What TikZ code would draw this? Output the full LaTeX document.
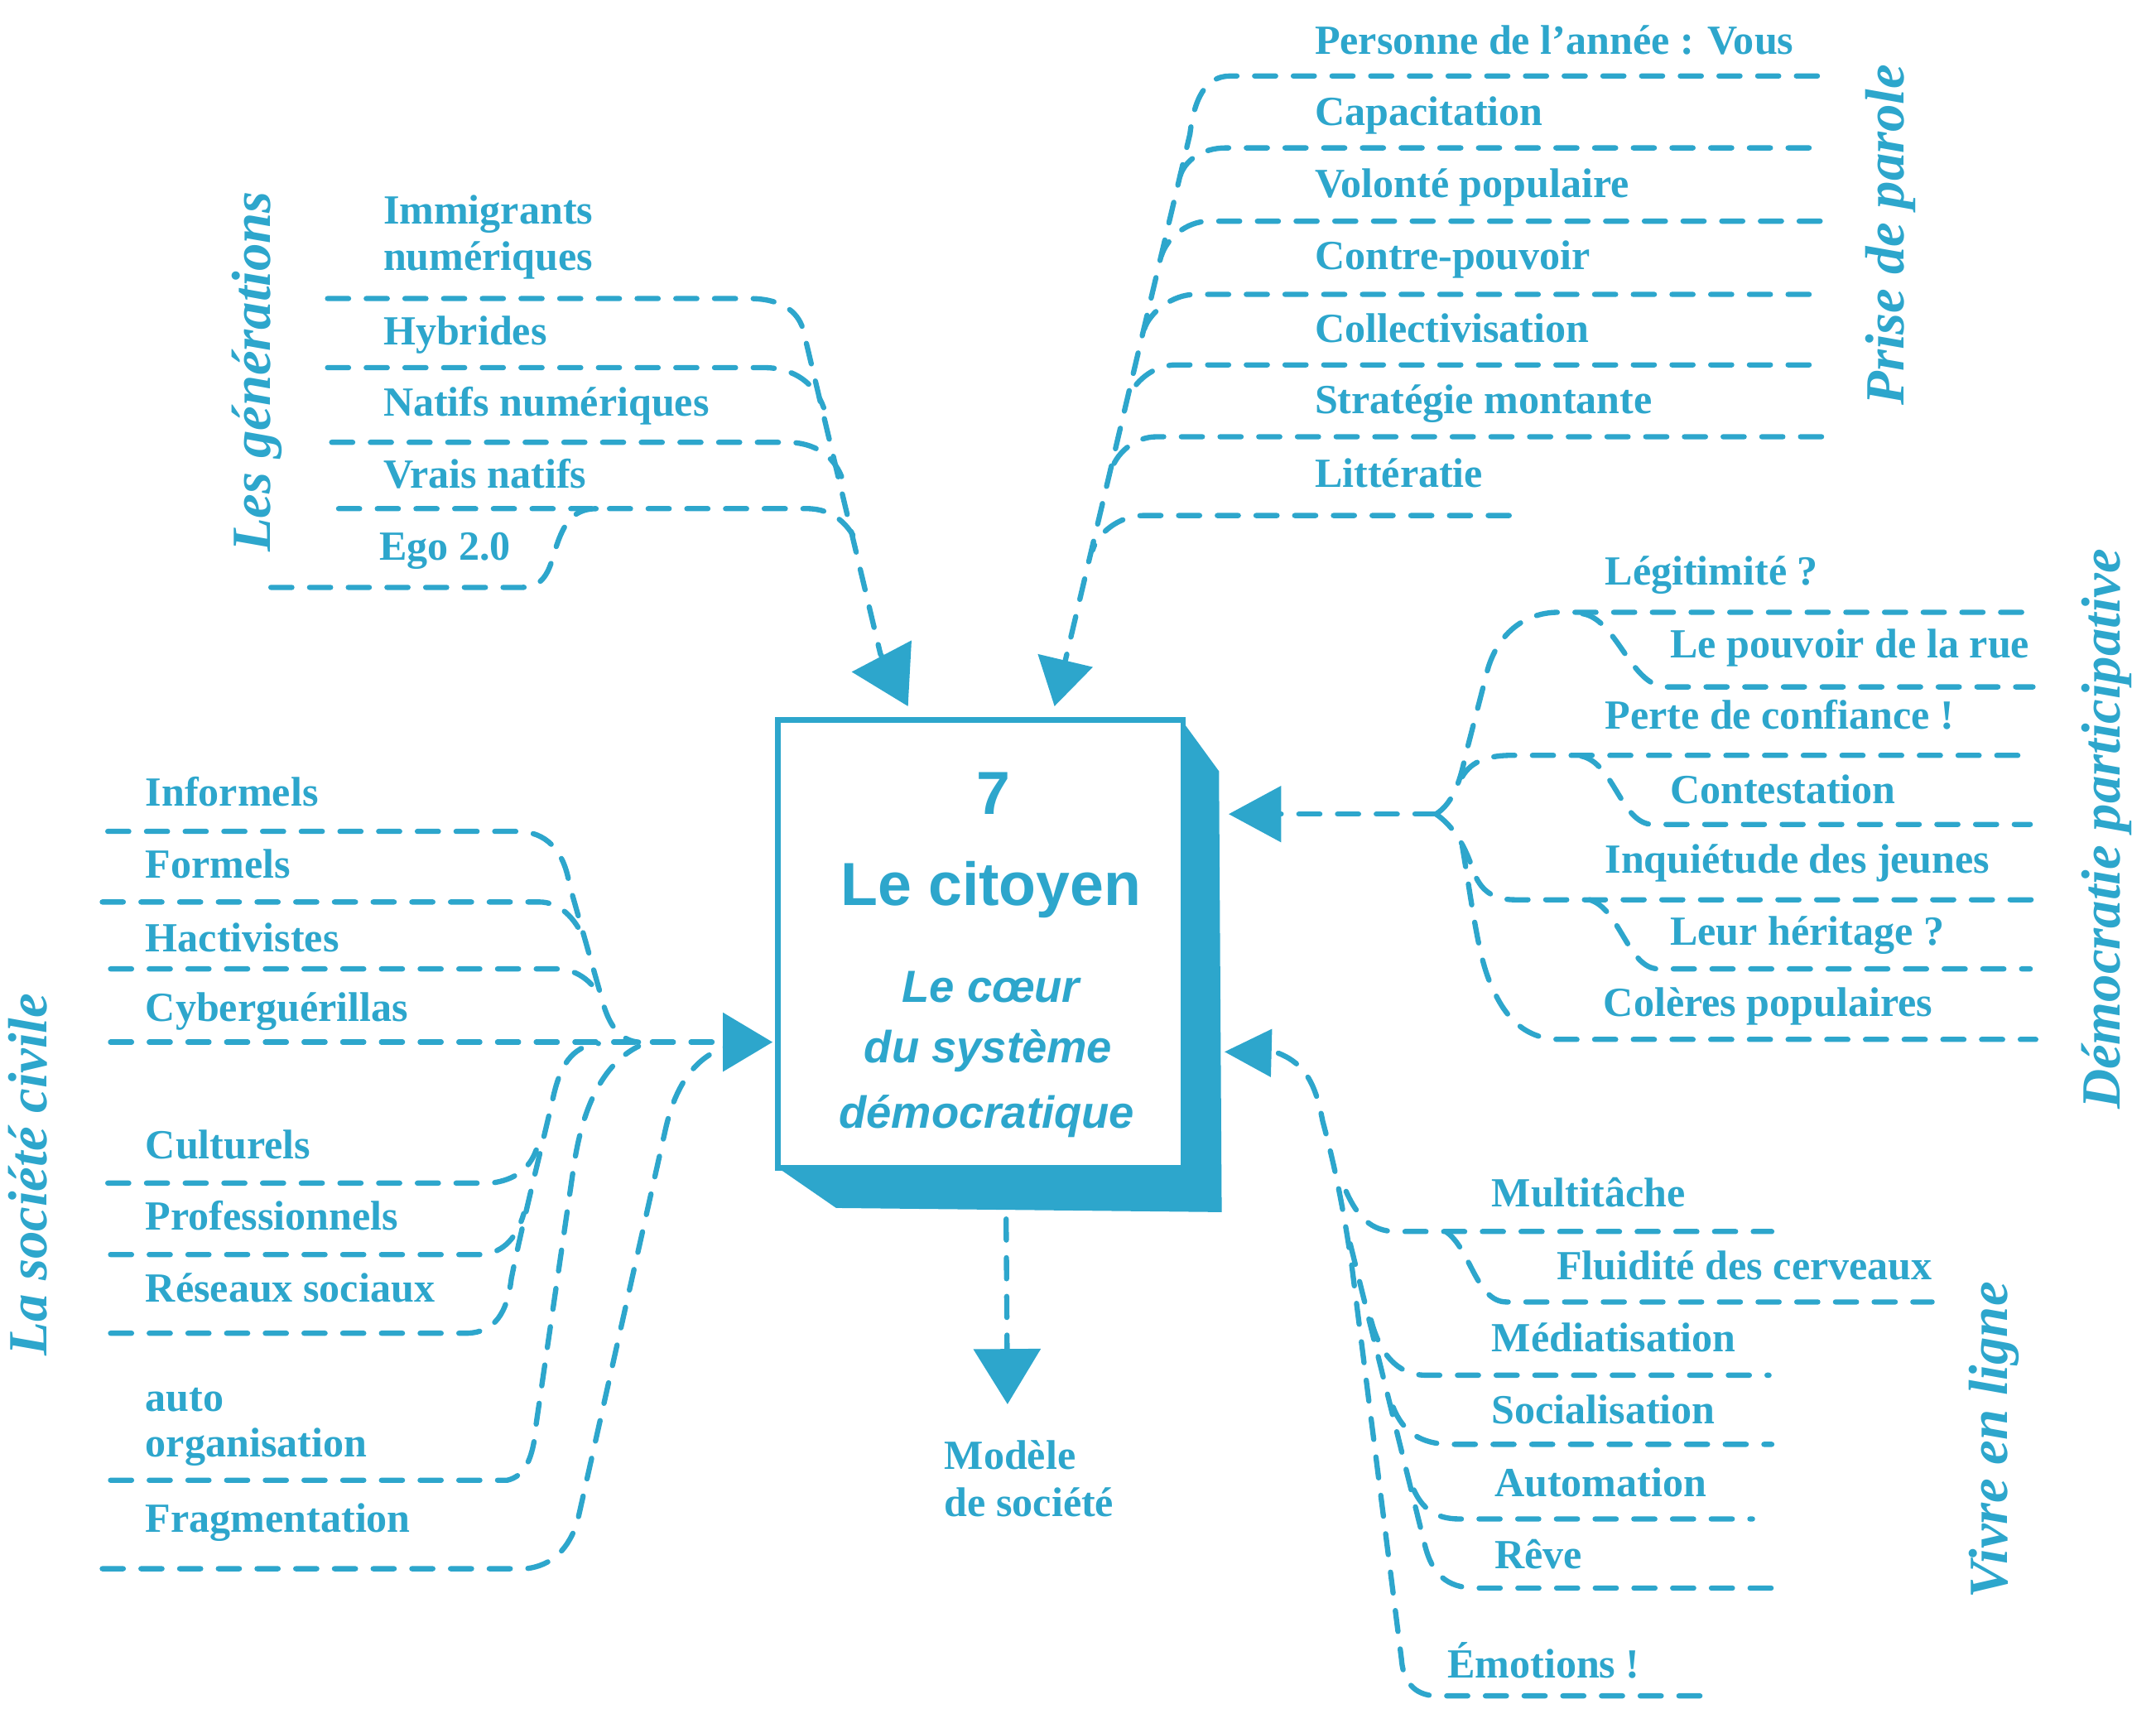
\documentclass[tikz,border=0pt]{standalone}
\usepackage{fontspec}
\setmainfont{Liberation Serif}
\newfontfamily\boxfont{Liberation Sans}
\usetikzlibrary{arrows.meta}
\definecolor{cb}{RGB}{45,166,204}
\begin{document}
\begin{tikzpicture}[x=0.5pt,y=-0.5pt,
  lab/.style={anchor=base west, inner sep=0pt, text=cb, font=\bfseries\fontsize{15}{17}\selectfont},
  cat/.style={rotate=90, inner sep=0pt, text=cb, font=\bfseries\itshape\fontsize{20}{24}\selectfont},
  dl/.style={draw=cb, line width=1.9pt, dash pattern=on 7.6pt off 6.4pt, line cap=round},
  boxtxt/.style={anchor=base, inner sep=0pt, text=cb},
]
\useasboundingbox (0,0) rectangle (1560,1253.3);

% ---------- central box ----------
\fill[cb] (855,521) -- (882,558) -- (884,877) -- (605,874) -- (563,845) -- cycle;
\node[draw=cb, fill=white, line width=2pt, minimum width=146.5pt, minimum height=162pt, inner sep=0pt] (box) at (709.5,683) {};
\node[boxtxt, font=\boxfont\bfseries\fontsize{22}{26}\selectfont] (n7) at (719,589) {7};
\node[boxtxt, font=\boxfont\bfseries\fontsize{22}{26}\selectfont] (ncit) at (717,655) {Le citoyen};
\node[boxtxt, font=\boxfont\bfseries\itshape\fontsize{16.3}{20}\selectfont] (nc1) at (717,725) {Le cœur};
\node[boxtxt, font=\boxfont\bfseries\itshape\fontsize{16.3}{20}\selectfont] (nc2) at (715,769) {du système};
\node[boxtxt, font=\boxfont\bfseries\itshape\fontsize{16.3}{20}\selectfont] (nc3) at (714,816) {démocratique};

% ---------- top-left : Les générations ----------
\coordinate (tTL) at (657,511);
\draw[dl, -{Triangle[length=20.5pt,width=24pt]}] (237,216) -- (542,216) .. controls (565,216) and (577,225) .. (581,238) -- (637,473) -- (tTL);
\draw[dl] (237,266) -- (553,266) .. controls (575,266) and (590,278) .. (596,295);
\draw[dl] (240,320) -- (569,320) .. controls (590,320) and (603,330) .. (609,345);
\draw[dl] (245,368) -- (584,368) .. controls (603,368) and (615,380) .. (621,395);
\draw[dl] (196,425) -- (378,425) .. controls (395,425) and (398,410) .. (402,397) .. controls (408,378) and (415,368) .. (432,368);
\node[lab] (tl1) at (277,162) {Immigrants};
\node[lab] (tl1b) at (277,195.5) {numériques};
\node[lab] (tl2) at (277,249.7) {Hybrides};
\node[lab] (tl3) at (277,300.8) {Natifs numériques};
\node[lab] (tl4) at (277,353) {Vrais natifs};
\node[lab] (tl5) at (274,405) {Ego 2.0};
\node[cat] (catTL) at (186,269) {Les générations};

% ---------- top-right : Prise de parole ----------
\coordinate (tTR) at (763,511);
\draw[dl, -{Triangle[length=17pt,width=20pt]}] (1315,55) -- (890,55) .. controls (872,55) and (864,72) .. (861,97) -- (tTR);
\draw[dl] (1309,107) -- (887,107) .. controls (870,107) and (857,116) .. (853.7,128);
\draw[dl] (1317,160) -- (875,160) .. controls (858,160) and (844,173) .. (840.4,185);
\draw[dl] (1309,213) -- (865,213) .. controls (848,213) and (832,226) .. (828,238);
\draw[dl] (1309,264) -- (851,264) .. controls (834,264) and (820,277) .. (816,289);
\draw[dl] (1318,316) -- (837,316) .. controls (820,316) and (807,329) .. (803.9,341);
\draw[dl] (1092,373) -- (827,373) .. controls (810,373) and (794,386) .. (790.6,398);
\node[lab] (tr1) at (951,39) {Personne de l’année : Vous};
\node[lab] (tr2) at (951,91) {Capacitation};
\node[lab] (tr3) at (951,143) {Volonté populaire};
\node[lab] (tr4) at (951,195) {Contre-pouvoir};
\node[lab] (tr5) at (951,247.5) {Collectivisation};
\node[lab] (tr6) at (951,299.4) {Stratégie montante};
\node[lab] (tr7) at (951,352.4) {Littératie};
\node[cat] (catTR) at (1368,170) {Prise de parole};

% ---------- right : Démocratie participative ----------
\coordinate (hub) at (1039,589);
\coordinate (tR) at (889,589);
\draw[dl, -{Triangle[length=19pt,width=20pt]}] (hub) -- (tR);
\draw[dl] (hub) .. controls (1050,582) and (1056,568) .. (1060,548) -- (1075,490) .. controls (1081,462) and (1100,443) .. (1128,443) -- (1473,443);
\draw[dl] (1145,444) .. controls (1170,448) and (1180,497) .. (1206,497) -- (1471,497);
\draw[dl] (1058,562) .. controls (1065,550) and (1078,546.5) .. (1094,546.5) -- (1469,546.5);
\draw[dl] (1144,547) .. controls (1168,552) and (1173,596.5) .. (1196,596.5) -- (1469,596.5);
\draw[dl] (hub) .. controls (1052,598) and (1060,612) .. (1066,630) .. controls (1071,644) and (1080,651) .. (1096,651) -- (1473,651);
\draw[dl] (1150,651) .. controls (1172,657) and (1178,701) .. (1200,701) -- (1469,701);
\draw[dl] (1058,612) .. controls (1066,660) and (1070,695) .. (1080,715) .. controls (1090,738) and (1105,752) .. (1129,752) -- (1473,752);
\node[lab] (r1) at (1161,423.5) {Légitimité ?};
\node[lab] (r2) at (1208,476) {Le pouvoir de la rue};
\node[lab] (r3) at (1161,527.6) {Perte de confiance !};
\node[lab] (r4) at (1208,581.3) {Contestation};
\node[lab] (r5) at (1161,632) {Inquiétude des jeunes};
\node[lab] (r6) at (1208,683.6) {Leur héritage ?};
\node[lab] (r7) at (1160,735.2) {Colères populaires};
\node[cat] (catR) at (1524,600) {Démocratie participative};

% ---------- bottom-right : Vivre en ligne ----------
\coordinate (tBR) at (886,761);
\draw[dl, -{Triangle[length=17pt,width=17pt]}] (1230,1227) -- (1040,1227) .. controls (1022,1227) and (1015,1215) .. (1014,1200) -- (978,915) .. controls (970,860) and (962,830) .. (957,811) .. controls (952,785) and (945,770) .. (925,762) -- (tBR);
\draw[dl] (977,900) -- (1031,1118) .. controls (1036,1138) and (1046,1149) .. (1068,1149) -- (1282,1149);
\draw[dl] (992,955) .. controls (998,978) and (1010,995) .. (1032,995) -- (1280,995);
\draw[dl] (1008,1018) .. controls (1015,1036) and (1028,1045) .. (1050,1045) -- (1282,1045);
\draw[dl] (1023,1078) .. controls (1029,1091) and (1038,1099) .. (1056,1099) -- (1268,1099);
\draw[dl] (974,862) .. controls (982,880) and (992,891) .. (1010,891) -- (1282,891);
\draw[dl] (1046,891) .. controls (1064,903) and (1068,942) .. (1090,942) -- (1398,942);
\node[lab] (br1) at (1079,873) {Multitâche};
\node[lab] (br2) at (1126,926) {Fluidité des cerveaux};
\node[lab] (br3) at (1079,978) {Médiatisation};
\node[lab] (br4) at (1079,1030) {Socialisation};
\node[lab] (br5) at (1081,1083) {Automation};
\node[lab] (br6) at (1081,1135) {Rêve};
\node[lab] (br7) at (1047,1214) {Émotions !};
\node[cat] (catBR) at (1443,1042) {Vivre en ligne};

% ---------- bottom : Modèle de société ----------
\coordinate (tB) at (729,1016);
\draw[dl, -{Triangle[length=20pt,width=24pt]}] (728,882) -- (tB);
\node[lab] (m1) at (683,1063) {Modèle};
\node[lab] (m2) at (683,1097) {de société};

% ---------- left : La société civile ----------
\coordinate (tL) at (559,754);
\draw[dl] (78,601.5) -- (374,601.5) .. controls (395,601.5) and (408,615) .. (412,640) -- (437,728) .. controls (442,744) and (450,753) .. (462,754);
\draw[dl] (74,652.6) -- (390,652.6) .. controls (405,652.6) and (416,664) .. (423,680);
\draw[dl] (80,701) -- (403,701) .. controls (416,701) and (428,709) .. (435,722);
\draw[dl] (80,964.6) -- (338,964.6) .. controls (358,964) and (367,950) .. (370,925) .. controls (378,885) and (392,830) .. (400,795) .. controls (405,772) and (413,757) .. (433,755);
\draw[dl] (78,856) -- (355,856) .. controls (372,854) and (383,846) .. (388,832);
\draw[dl] (80,907.7) -- (349,907.7) .. controls (365,906) and (374,895) .. (379,878);
\draw[dl] (80,1071) -- (367,1071) .. controls (380,1068) and (386,1055) .. (388,1030) -- (415,845) .. controls (420,810) and (432,772) .. (462,757);
\draw[dl] (74,1135) -- (380,1135) .. controls (400,1133) and (412,1120) .. (418,1100) -- (482,815) .. controls (488,790) and (500,765) .. (527,757);
\draw[dl, -{Triangle[length=18pt,width=21pt]}] (80,754) -- (tL);
\node[lab] (l1) at (105,583.4) {Informels};
\node[lab] (l2) at (105,635.6) {Formels};
\node[lab] (l3) at (105,688.6) {Hactivistes};
\node[lab] (l4) at (105,738.8) {Cyberguérillas};
\node[lab] (l5) at (105,838.2) {Culturels};
\node[lab] (l6) at (105,889.7) {Professionnels};
\node[lab] (l7) at (105,941.9) {Réseaux sociaux};
\node[lab] (l8) at (105,1021) {auto};
\node[lab] (l8b) at (105,1054.3) {organisation};
\node[lab] (l9) at (105,1108.4) {Fragmentation};
\node[cat] (catL) at (20,850) {La société civile};
\end{tikzpicture}
\end{document}
